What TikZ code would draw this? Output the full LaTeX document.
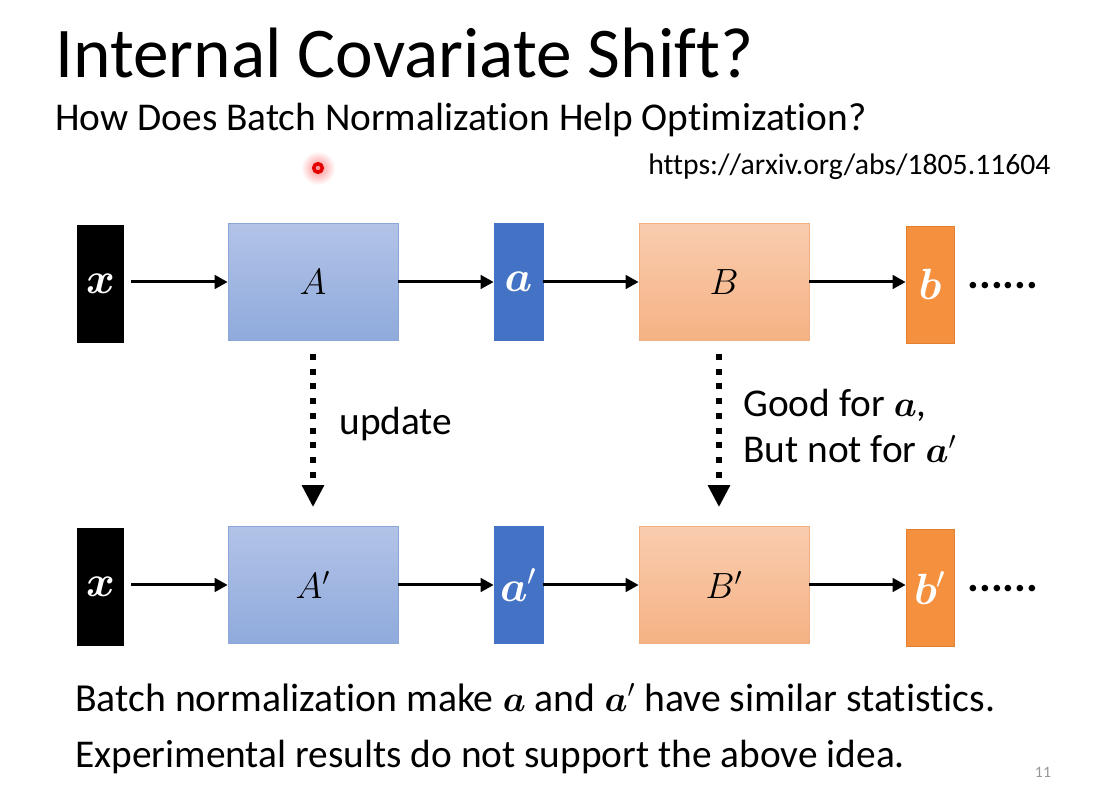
\documentclass[tikz,border=0pt]{standalone}
\usepackage{fontspec}
\setmainfont{Carlito}[Ligatures={NoCommon}]
\usepackage{amsmath,bm}
\usetikzlibrary{arrows.meta}
\definecolor{Atop}{RGB}{178,195,231}
\definecolor{Abot}{RGB}{143,170,220}
\definecolor{Aedge}{RGB}{140,166,216}
\definecolor{avec}{RGB}{68,114,196}
\definecolor{Btop}{RGB}{249,204,175}
\definecolor{Bbot}{RGB}{245,178,132}
\definecolor{Bedge}{RGB}{240,175,130}
\definecolor{bvec}{RGB}{245,145,62}
\definecolor{bedge}{RGB}{225,128,50}
\definecolor{pgnum}{RGB}{150,150,150}
\begin{document}
\begin{tikzpicture}[x=0.02cm,y=-0.02cm,
  vecbox/.style={minimum width=0.94cm, minimum height=2.36cm, inner sep=0pt, text=white,
    font=\fontsize{24}{26}\selectfont},
  bigbox/.style={minimum width=3.4cm, minimum height=2.34cm, inner sep=0pt,
    font=\fontsize{22}{24}\selectfont},
  Abox/.style={bigbox, draw=Aedge, top color=Atop, bottom color=Abot},
  Bbox/.style={bigbox, draw=Bedge, top color=Btop, bottom color=Bbot},
  arr/.style={-{Triangle[length=0.26cm,width=0.27cm]}, line width=0.06cm},
  dotarr/.style={-{Triangle[length=0.44cm,width=0.42cm]}, line width=0.12cm,
    dash pattern=on 0.12cm off 0.175cm},
  ell/.style={anchor=base, font=\fontsize{25}{28}\selectfont\bfseries},
  lbl/.style={anchor=base west, font=\fontsize{22.4}{26}\selectfont}
]
\useasboundingbox (0,0) rectangle (1093,807);
\fill[white] (0,0) rectangle (1093,807);

% titles
\node[anchor=base west, inner sep=0pt, font=\fontsize{40.6}{46}\selectfont] (title) at (55,78) {Internal Covariate Shift?};
\node[anchor=base west, inner sep=0pt, font=\fontsize{22.4}{26}\selectfont] (sub) at (55,131) {How Does Batch Normalization Help Optimization?};
\node[anchor=base west, inner sep=0pt, font=\fontsize{16.9}{19}\selectfont] (url) at (648,175) {https://arxiv.org/abs/1805.11604};

% laser pointer
\shade[inner color=red!45, outer color=white] (318,168) circle (0.34cm);
\draw[red!90!black, line width=0.07cm] (318,168) circle (0.085cm);

% row 1
\node[vecbox, fill=black] (x1) at (100.5,284) {$\bm{x}$};
\node[Abox] (A) at (313,282) {$A$};
\node[vecbox, fill=avec, draw=avec, minimum width=0.98cm, minimum height=2.34cm] (a1) at (518.5,282) {$\bm{a}$};
\node[Bbox] (B) at (724,282) {$B$};
\node[vecbox, fill=bvec, draw=bedge, minimum width=0.96cm, minimum height=2.34cm] (b1) at (930,284.5) {$\bm{b}$};
\node[ell] (d1) at (1003,289) {......};

\draw[arr, shorten <=0.14cm] (x1.east |- A.west) -- (A.west);
\draw[arr] (A.east) -- (a1.west);
\draw[arr] (a1.east) -- (B.west);
\draw[arr] (B.east) -- (b1.west |- B.east);

% row 2
\node[vecbox, fill=black] (x2) at (100.5,587) {$\bm{x}$};
\node[Abox] (A2) at (313,585) {$A'$};
\node[vecbox, fill=avec, draw=avec, minimum width=0.98cm, minimum height=2.34cm] (a2) at (518.5,585) {$\bm{a}'$};
\node[Bbox] (B2) at (724,585) {$B'$};
\node[vecbox, fill=bvec, draw=bedge, minimum width=0.96cm, minimum height=2.34cm] (b2) at (930,588) {$\bm{b}'$};
\node[ell] (d2) at (1003,592) {......};

\draw[arr, shorten <=0.14cm] (x2.east |- A2.west) -- (A2.west);
\draw[arr] (A2.east) -- (a2.west);
\draw[arr] (a2.east) -- (B2.west);
\draw[arr] (B2.east) -- (b2.west |- B2.east);

% update arrows
\draw[dotarr, shorten <=0.26cm, shorten >=0.38cm] (A.south) -- (A2.north);
\draw[dotarr, shorten <=0.26cm, shorten >=0.38cm] ([xshift=-0.1cm]B.south) -- ([xshift=-0.1cm]B2.north);
\node[lbl, inner sep=0pt] (upd) at (339,435) {update};
\node[lbl, inner sep=0pt] (good) at (743,417) {Good for $\bm{a}$,};
\node[lbl, inner sep=0pt] (bad) at (743,463) {But not for $\bm{a}'$};

% bottom text
\node[anchor=base west, inner sep=0pt, font=\fontsize{22.6}{26}\selectfont] (t1) at (75,711) {Batch normalization make $\bm{a}$ and $\bm{a}'$ have similar statistics.};
\node[anchor=base west, inner sep=0pt, font=\fontsize{22.4}{26}\selectfont] (t2) at (75,767) {Experimental results do not support the above idea.};
\node[anchor=base, inner sep=0pt, text=pgnum, font=\fontsize{9}{10}\selectfont] (pg) at (1043,777) {11};
\end{tikzpicture}
\end{document}
